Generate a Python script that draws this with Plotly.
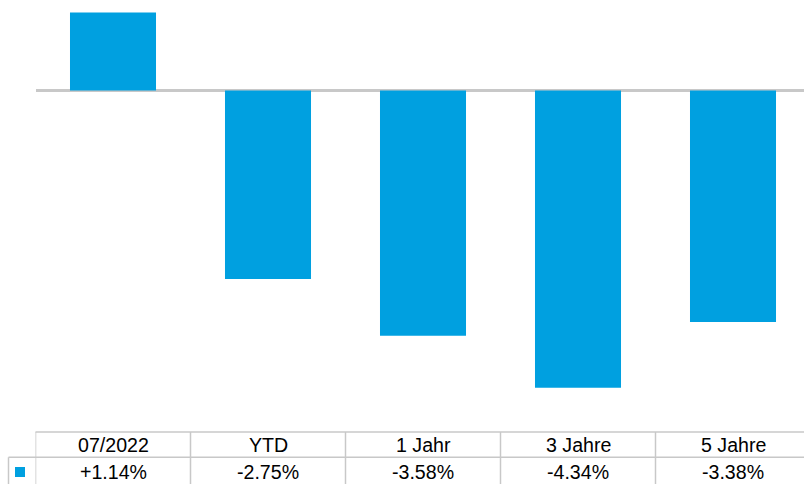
import plotly.graph_objects as go

categories = ["07/2022", "YTD", "1 Jahr", "3 Jahre", "5 Jahre"]
values = [1.14, -2.75, -3.58, -4.34, -3.38]
value_labels = ["+1.14%", "-2.75%", "-3.58%", "-4.34%", "-3.38%"]

W, H = 804, 484
BAR_COLOR = "#00A0E0"
LINE_COLOR = "#C8C8C8"
FONT = "Liberation Sans, Arial, sans-serif"
FSIZE = 19.6

def py(px):
    return 1 - px / H

def pxx(px):
    return px / W

# plot area: y pixel 0..420, zero at 90.5, 68.5 px/unit
ppu = 68.5
zero_px = 90.5
y_top = zero_px / ppu
y_bot = -(420 - zero_px) / ppu

x_left_px = 35.5
cat_w = 155.0
x_range_end = -0.5 + (W - x_left_px) / cat_w

fig = go.Figure()
fig.add_trace(go.Bar(
    x=list(range(len(categories))), y=values,
    marker=dict(color=BAR_COLOR, line=dict(width=0)),
    width=0.555, showlegend=False, hoverinfo="skip",
))

shapes = []
# horizontal table lines
shapes.append(dict(type="line", xref="paper", yref="paper", x0=pxx(35.5), x1=1, y0=py(432), y1=py(432),
                   line=dict(color=LINE_COLOR, width=1.5)))
shapes.append(dict(type="line", xref="paper", yref="paper", x0=pxx(8.5), x1=1, y0=py(457.3), y1=py(457.3),
                   line=dict(color=LINE_COLOR, width=1.5)))
# left legend cell line
shapes.append(dict(type="line", xref="paper", yref="paper", x0=pxx(8.5), x1=pxx(8.5), y0=py(457.3), y1=0,
                   line=dict(color=LINE_COLOR, width=1.5)))
# column boundaries
for k in range(len(categories)):
    shapes.append(dict(type="line", xref="x", yref="paper", x0=k - 0.5, x1=k - 0.5, y0=py(432), y1=0,
                       line=dict(color=LINE_COLOR, width=1.5)))
# legend key
shapes.append(dict(type="rect", xref="paper", yref="paper", x0=pxx(15), x1=pxx(25), y0=py(477), y1=py(467),
                   fillcolor=BAR_COLOR, line=dict(width=0)))

annotations = []
for k, (c, v) in enumerate(zip(categories, value_labels)):
    annotations.append(dict(x=k, xref="x", y=py(444.5), yref="paper", text=c, showarrow=False,
                            xanchor="center", yanchor="middle", font=dict(family=FONT, size=FSIZE, color="#000")))
    annotations.append(dict(x=k, xref="x", y=py(471.5), yref="paper", text=v, showarrow=False,
                            xanchor="center", yanchor="middle", font=dict(family=FONT, size=FSIZE, color="#000")))

fig.update_layout(
    width=W, height=H,
    margin=dict(l=0, r=0, t=0, b=0),
    paper_bgcolor="white", plot_bgcolor="white",
    xaxis=dict(domain=[pxx(x_left_px), 1], range=[-0.5, x_range_end], showticklabels=False,
               showgrid=False, zeroline=False, showline=False, fixedrange=True),
    yaxis=dict(domain=[py(420), 1], range=[y_bot, y_top], showticklabels=False, showgrid=False,
               zeroline=True, zerolinecolor=LINE_COLOR, zerolinewidth=2.5, showline=False, fixedrange=True),
    shapes=shapes, annotations=annotations,
    showlegend=False,
)

fig.write_html("out.html", config={"displayModeBar": False})
